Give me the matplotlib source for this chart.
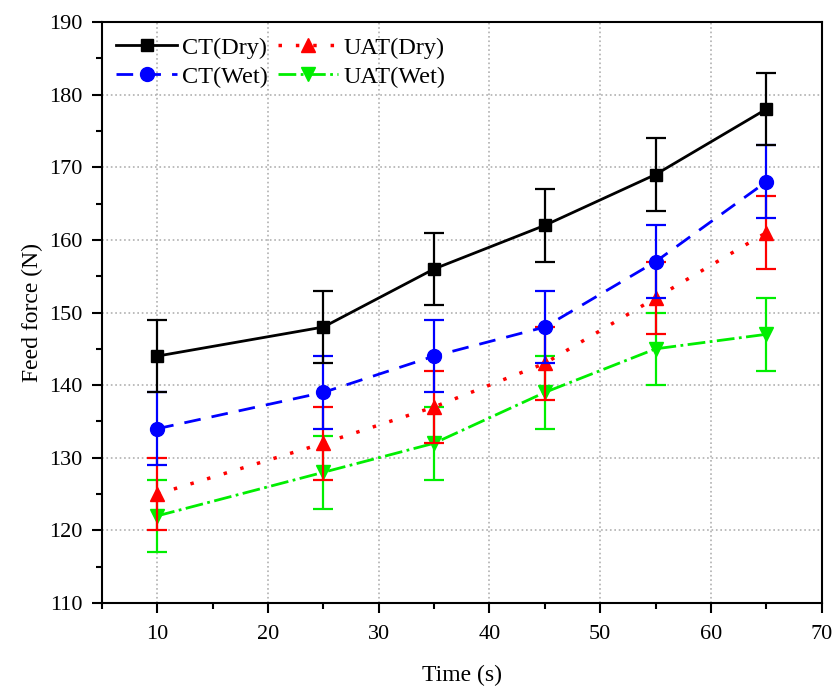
import numpy as np
import matplotlib.pyplot as plt
from matplotlib.ticker import MultipleLocator

plt.rcParams['font.family'] = ['Liberation Serif', 'DejaVu Serif']

# Data
waktu = [10, 25, 35, 45, 55, 65]
ct_dry = [144, 148, 156, 162, 169, 178]
ct_wet = [134, 139, 144, 148, 157, 168]
uat_dry = [125, 132, 137, 143, 152, 161]
uat_wet = [122, 128, 132, 139, 145, 147]
err_ct_dry = [5, 5, 5, 5, 5, 5]
err_ct_wet = [5, 5, 5, 5, 5, 5]
err_uat_dry = [5, 5, 5, 5, 5, 5]
err_uat_wet = [5, 5, 5, 5, 5, 5]

fig = plt.figure(figsize=(8.35, 6.88), dpi=100)
ax = fig.add_axes([0.122, 0.1235, 0.862, 0.8445])

ax.errorbar(waktu, uat_wet, yerr=err_uat_wet, color='#00ee00', linestyle='-.', lw=2,
            marker='v', ms=10, capsize=7, elinewidth=1.6, capthick=1.6, label='UAT(Wet)', zorder=3)
ax.errorbar(waktu, uat_dry, yerr=err_uat_dry, color='red', linestyle=(0, (1, 4)), lw=2.5,
            marker='^', ms=10, capsize=7, elinewidth=1.6, capthick=1.6, label='UAT(Dry)', zorder=4)
ax.errorbar(waktu, ct_wet, yerr=err_ct_wet, color='blue', linestyle=(0, (6, 4)), lw=2,
            marker='o', ms=10, capsize=7, elinewidth=1.6, capthick=1.6, label='CT(Wet)', zorder=5)
ax.errorbar(waktu, ct_dry, yerr=err_ct_dry, color='black', linestyle='-', lw=2,
            marker='s', ms=9, capsize=7, elinewidth=1.6, capthick=1.6, label='CT(Dry)', zorder=6)

ax.set_xlim(5, 70)
ax.set_ylim(110, 190)
ax.xaxis.set_major_locator(MultipleLocator(10))
ax.xaxis.set_minor_locator(MultipleLocator(5))
ax.yaxis.set_major_locator(MultipleLocator(10))
ax.yaxis.set_minor_locator(MultipleLocator(5))
ax.tick_params(which='major', direction='out', length=7, width=1.5, labelsize=16)
ax.tick_params(which='minor', direction='out', length=4, width=1.5)
ax.tick_params(axis='x', which='major', pad=8.5)
ax.tick_params(axis='y', which='major', pad=7)
for s in ax.spines.values():
    s.set_linewidth(1.5)

ax.grid(which='major', color='#b0b0b0', linestyle=':', linewidth=1.2)
ax.set_axisbelow(True)

ax.set_xlabel('Time (s)', fontsize=17, labelpad=15)
ax.set_ylabel('Feed force (N)', fontsize=17)

h, l = ax.get_legend_handles_labels()
urut = [3, 2, 1, 0]
ax.legend([h[i][0] for i in urut], [l[i] for i in urut], ncol=2, loc='upper left',
          frameon=False, fontsize=17.5, handlelength=2.5, columnspacing=0.4,
          handletextpad=0.2, labelspacing=0.3, borderaxespad=0.2)

plt.savefig('out.png', dpi=100)
